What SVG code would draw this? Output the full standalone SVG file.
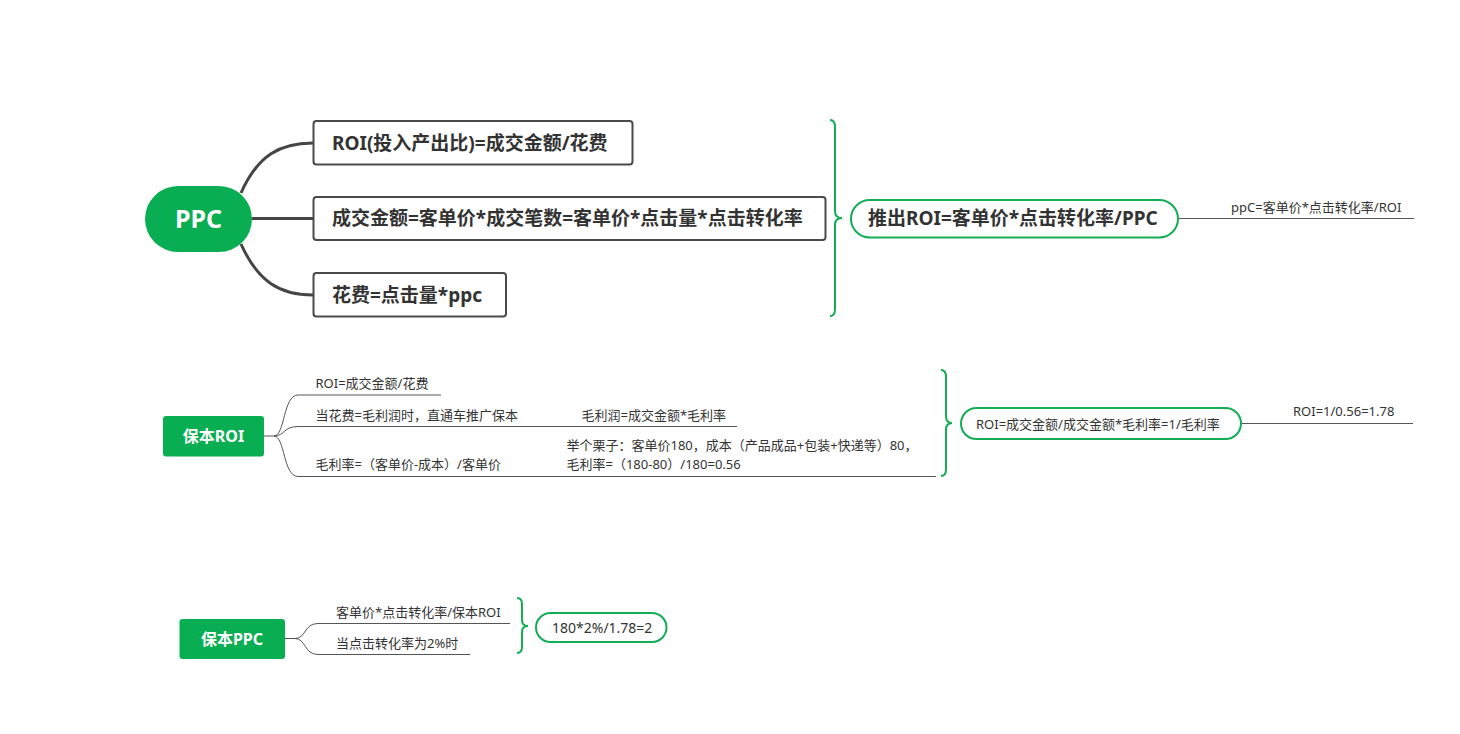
<svg xmlns="http://www.w3.org/2000/svg" width="1460" height="734" viewBox="0 0 1460 734">
<style>
text{font-family:"Noto Sans","Noto Sans CJK SC",sans-serif;fill:#333}
.big{font-size:19px;font-weight:bold}
.sm{font-size:13px}
.wt{fill:#fff;font-weight:bold}
.box{fill:#fff;stroke:#4a4a4a;stroke-width:2}
.pill{fill:#fff;stroke:#12ad55;stroke-width:2}
.gfill{fill:#0aae52}
.thick{fill:none;stroke:#454545;stroke-width:3}
.thin{fill:none;stroke:#555;stroke-width:1}
.brace{fill:none;stroke:#12ad55;stroke-width:2}
</style>
<rect width="1460" height="734" fill="#fff"/>
<g id="connectors">
<path class="thick" d="M241,193 C258,155 280,143 313,143"/>
<path class="thick" d="M252,218.5 L313,218.5"/>
<path class="thick" d="M241,244 C258,282 280,295 313,295"/>
<path class="brace" d="M830,120 Q835,120 835,127 L835,211 Q835,218 842,218 Q835,218 835,225 L835,309 Q835,316 830,316"/>
<path class="thin" d="M1178,218.5 L1414,218.5"/>
<path class="thin" d="M264,436 L274,436 C285,436 283,395 298,395 L441,395"/>
<path class="thin" d="M274,436 C285,436 283,426.5 298,426.5 L737,426.5"/>
<path class="thin" d="M274,436 C285,436 283,476.5 298,476.5 L936,476.5"/>
<path class="brace" d="M941,370 Q946,370 946,377 L946,416 Q946,423 952,423 Q946,423 946,430 L946,469 Q946,476 941,476"/>
<path class="thin" d="M1241,423.5 L1413,423.5"/>
<path class="thin" d="M285,638.5 L295,638.5 C306,638.5 304,623.5 318,623.5 L510,623.5"/>
<path class="thin" d="M295,638.5 C306,638.5 304,654.5 318,654.5 L470,654.5"/>
<path class="brace" d="M517,598 Q522,598 522,604 L522,620 Q522,626 528,626 Q522,626 522,632 L522,647 Q522,653 517,653"/>
</g>
<g id="ppc">
<rect class="gfill" x="145" y="186" width="107" height="66" rx="33"/>
<text class="wt" x="198.5" y="228" font-size="25" text-anchor="middle">PPC</text>
</g>
<g id="roi-def">
<rect class="box" x="313.5" y="121" width="319" height="43.5" rx="3"/>
<text class="big" x="332" y="149.5">ROI(投入产出比)=成交金额/花费</text>
</g>
<g id="sales">
<rect class="box" x="313.5" y="197" width="512" height="43" rx="3"/>
<text class="big" x="332" y="225">成交金额=客单价*成交笔数=客单价*点击量*点击转化率</text>
</g>
<g id="cost">
<rect class="box" x="313.5" y="273" width="192.5" height="43.5" rx="3"/>
<text class="big" x="332" y="301.5">花费=点击量*ppc</text>
</g>
<g id="derive">
<rect class="pill" x="851" y="200" width="327" height="37.5" rx="18.75"/>
<text class="big" x="868" y="225">推出ROI=客单价*点击转化率/PPC</text>
</g>
<g id="ppc-formula">
<text class="sm" x="1231" y="212">ppC=客单价*点击转化率/ROI</text>
</g>
<g id="break-even-roi">
<rect class="gfill" x="163" y="416" width="101" height="40.5" rx="3"/>
<text class="wt" x="213.5" y="441.5" font-size="16" text-anchor="middle">保本ROI</text>
</g>
<g id="roi-branch">
<text class="sm" x="315.5" y="388">ROI=成交金额/花费</text>
</g>
<g id="cost-branch">
<text class="sm" x="315.5" y="420">当花费=毛利润时，直通车推广保本</text>
<text class="sm" x="581.5" y="420">毛利润=成交金额*毛利率</text>
</g>
<g id="margin-branch">
<text class="sm" x="315.5" y="469">毛利率=（客单价-成本）/客单价</text>
<text class="sm" x="566.5" y="450">举个栗子：客单价180，成本（产品成品+包装+快递等）80，</text>
<text class="sm" x="566.5" y="469">毛利率=（180-80）/180=0.56</text>
</g>
<g id="roi-result">
<rect class="pill" x="961" y="408" width="280" height="31" rx="15.5"/>
<text class="sm" x="976" y="428.5">ROI=成交金额/成交金额*毛利率=1/毛利率</text>
</g>
<g id="roi-value">
<text class="sm" x="1293" y="416">ROI=1/0.56=1.78</text>
</g>
<g id="break-even-ppc">
<rect class="gfill" x="179.5" y="619" width="105.5" height="40" rx="3"/>
<text class="wt" x="232" y="644.5" font-size="16" text-anchor="middle">保本PPC</text>
</g>
<g id="ppc-branches">
<text class="sm" x="336" y="616.5">客单价*点击转化率/保本ROI</text>
<text class="sm" x="336" y="647.5">当点击转化率为2%时</text>
</g>
<g id="ppc-result">
<rect class="pill" x="536" y="613" width="130.5" height="29" rx="14.5"/>
<text x="552" y="632.5" font-size="14">180*2%/1.78=2</text>
</g>
</svg>
